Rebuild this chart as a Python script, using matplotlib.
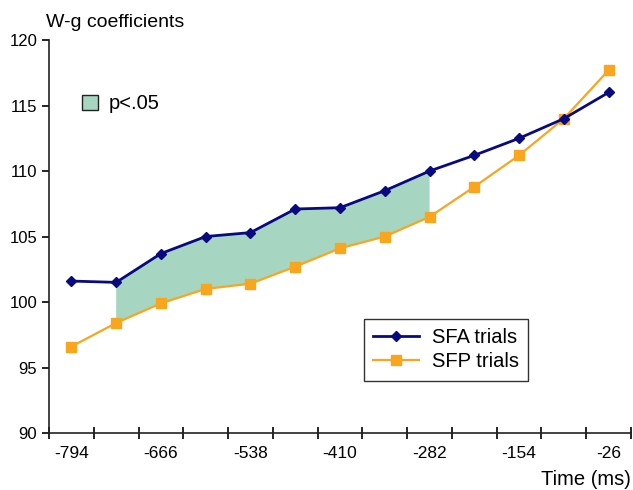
import matplotlib.pyplot as plt
import numpy as np
from matplotlib.patches import Patch

# Data
time_ms = [-794, -730, -666, -602, -538, -474, -410, -346, -282, -218, -154, -90, -26]
sfa = [101.6, 101.5, 103.7, 105.0, 105.3, 107.1, 107.2, 108.5, 110.0, 111.2, 112.5, 114.0, 116.0]
sfp = [96.6, 98.4, 99.9, 101.0, 101.4, 102.7, 104.1, 105.0, 106.5, 108.8, 111.2, 114.0, 117.7]
sig_start, sig_end = 1, 8  # indices of the p<.05 span

plt.rcParams['font.family'] = ['Liberation Sans', 'DejaVu Sans']

fig = plt.figure(figsize=(6.33, 4.9), dpi=100, facecolor="white")
ax = fig.add_axes([0.0774, 0.1163, 0.9195, 0.802])

x = np.arange(len(time_ms))

# shaded significance region
seg = slice(sig_start, sig_end + 1)
ax.fill_between(x[seg], np.array(sfp)[seg], np.array(sfa)[seg],
                facecolor="#a6d6c2", edgecolor="none", zorder=1)

ax.plot(x, sfa, color="#0a0a80", lw=2, marker="D", ms=5.5, label="SFA trials", zorder=3)
ax.plot(x, sfp, color="#f9a51e", lw=1.6, marker="s", ms=7, label="SFP trials", zorder=2)

ax.set_xlim(-0.5, len(time_ms) - 0.5)
ax.set_ylim(90, 120)
ax.set_yticks(np.arange(90, 121, 5))

# Excel-style category axis: tick marks between categories, labels every other
ax.set_xticks(np.arange(-0.5, len(time_ms)), minor=False)
ax.set_xticklabels([])
ax.set_xticks(x[::2], minor=True)
ax.set_xticklabels([str(t) for t in time_ms[::2]], minor=True)
ax.tick_params(axis="x", which="major", direction="inout", length=8, width=1.2)
ax.tick_params(axis="x", which="minor", length=0, pad=9, labelsize=12.5)
ax.tick_params(axis="y", direction="out", length=5, width=1.2, labelsize=12)

for side in ["top", "right"]:
    ax.spines[side].set_visible(False)
for side in ["left", "bottom"]:
    ax.spines[side].set_linewidth(1.2)
    ax.spines[side].set_color("#222222")

fig.text(0.073, 0.955, "W-g coefficients", fontsize=14, ha="left", va="center")
fig.text(0.997, 0.022, "Time (ms)", fontsize=14.5, ha="right", va="center")

leg = ax.legend(loc="lower left", bbox_to_anchor=(0.524, 0.108), fontsize=14.5,
                frameon=True, fancybox=False, edgecolor="black", borderpad=0.45,
                labelspacing=0.25, handlelength=2.3, handletextpad=0.6)
leg.get_frame().set_linewidth(1.0)
ax.add_artist(leg)

sig = ax.legend(handles=[Patch(facecolor="#a6d6c2", edgecolor="#222222", lw=1.0, label="p<.05")],
                loc="upper left", bbox_to_anchor=(0.025, 0.908), frameon=False,
                fontsize=14.5, handlelength=0.8, handleheight=0.8, handletextpad=0.55)

fig.savefig("out.png", dpi=100)
